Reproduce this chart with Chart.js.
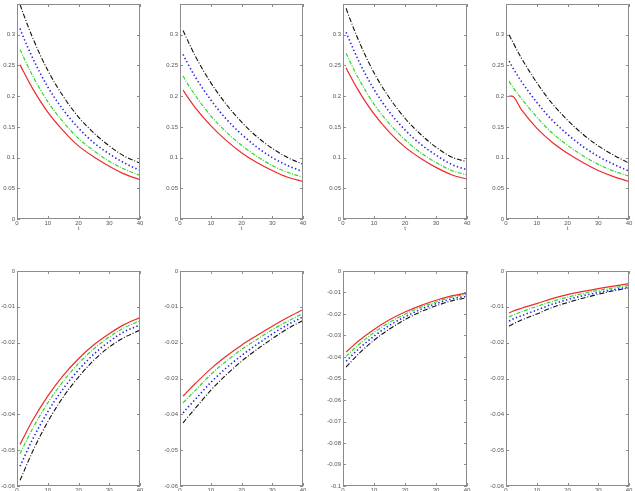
<!DOCTYPE html>
<html><head><meta charset="utf-8">
<script src="https://cdn.jsdelivr.net/npm/chart.js@4"></script>
<style>
html,body{margin:0;padding:0;background:#fff;overflow:hidden;width:635px;height:491px;position:relative}
canvas{position:absolute}
</style></head><body>
<script>
// shared t grid
const xs = [1, 2, 5, 10, 15, 20, 25, 30, 35, 40];
const xTicks = [0, 10, 20, 30, 40];

// top row, panel 1..4
const p1Red   = [0.251,0.241,0.213,0.174,0.144,0.119,0.101,0.086,0.073,0.064];
const p1Green = [0.276,0.265,0.234,0.191,0.158,0.131,0.111,0.094,0.081,0.071];
const p1Blue  = [0.310,0.297,0.263,0.215,0.178,0.148,0.124,0.106,0.091,0.079];
const p1Black = [0.349,0.335,0.296,0.242,0.200,0.166,0.140,0.119,0.102,0.091];

const p2Red   = [0.210,0.202,0.181,0.152,0.128,0.108,0.092,0.079,0.068,0.061];
const p2Green = [0.233,0.224,0.201,0.168,0.142,0.120,0.102,0.087,0.076,0.068];
const p2Blue  = [0.268,0.258,0.231,0.194,0.163,0.138,0.117,0.100,0.087,0.077];
const p2Black = [0.307,0.296,0.265,0.222,0.187,0.158,0.134,0.115,0.100,0.089];

const p3Red   = [0.246,0.236,0.209,0.171,0.141,0.117,0.099,0.084,0.072,0.065];
const p3Green = [0.270,0.259,0.229,0.187,0.155,0.129,0.108,0.092,0.079,0.072];
const p3Blue  = [0.304,0.292,0.258,0.211,0.174,0.145,0.122,0.104,0.089,0.080];
const p3Black = [0.343,0.329,0.291,0.238,0.197,0.164,0.138,0.117,0.101,0.093];

const p4Red   = [0.200,0.200,0.178,0.148,0.125,0.107,0.092,0.079,0.069,0.061];
const p4Green = [0.224,0.216,0.196,0.166,0.140,0.120,0.103,0.089,0.078,0.070];
const p4Blue  = [0.257,0.248,0.224,0.190,0.161,0.138,0.118,0.102,0.089,0.078];
const p4Black = [0.300,0.290,0.262,0.222,0.188,0.161,0.138,0.119,0.104,0.091];

// bottom row, panel 5..8
const p5Red   = [-0.0484,-0.0467,-0.0418,-0.0349,-0.0292,-0.0245,-0.0206,-0.0175,-0.0149,-0.0130];
const p5Green = [-0.0510,-0.0492,-0.0441,-0.0368,-0.0308,-0.0258,-0.0217,-0.0184,-0.0158,-0.0139];
const p5Blue  = [-0.0545,-0.0526,-0.0471,-0.0393,-0.0329,-0.0276,-0.0232,-0.0197,-0.0169,-0.0151];
const p5Black = [-0.0584,-0.0564,-0.0505,-0.0421,-0.0352,-0.0296,-0.0249,-0.0212,-0.0185,-0.0165];

const p6Red   = [-0.0349,-0.0340,-0.0314,-0.0273,-0.0238,-0.0207,-0.0180,-0.0154,-0.0130,-0.0108];
const p6Green = [-0.0368,-0.0359,-0.0333,-0.0289,-0.0252,-0.0219,-0.0191,-0.0164,-0.0140,-0.0119];
const p6Blue  = [-0.0396,-0.0386,-0.0358,-0.0311,-0.0271,-0.0236,-0.0205,-0.0176,-0.0150,-0.0128];
const p6Black = [-0.0424,-0.0413,-0.0383,-0.0333,-0.0290,-0.0252,-0.0219,-0.0189,-0.0161,-0.0138];

const p7Red   = [-0.0377,-0.0364,-0.0326,-0.0272,-0.0227,-0.0191,-0.0161,-0.0136,-0.0116,-0.0102];
const p7Green = [-0.0397,-0.0383,-0.0343,-0.0286,-0.0239,-0.0201,-0.0169,-0.0144,-0.0122,-0.0108];
const p7Blue  = [-0.0420,-0.0405,-0.0363,-0.0303,-0.0253,-0.0213,-0.0179,-0.0152,-0.0130,-0.0117];
const p7Black = [-0.0447,-0.0431,-0.0386,-0.0322,-0.0270,-0.0226,-0.0190,-0.0162,-0.0139,-0.0124];

const p8Red   = [-0.0117,-0.0113,-0.0104,-0.0091,-0.0077,-0.0066,-0.0057,-0.0049,-0.0042,-0.0035];
const p8Green = [-0.0128,-0.0124,-0.0114,-0.0099,-0.0085,-0.0073,-0.0063,-0.0054,-0.0047,-0.0040];
const p8Blue  = [-0.0140,-0.0135,-0.0125,-0.0109,-0.0093,-0.0080,-0.0069,-0.0060,-0.0052,-0.0045];
const p8Black = [-0.0154,-0.0149,-0.0137,-0.0120,-0.0102,-0.0088,-0.0076,-0.0065,-0.0055,-0.0047];

const xLabel = 't';

// layout (plot box positions in page pixels)
const panels = [
  {left:17,  top:4,   w:123, h:215, ymin:0, ymax:0.35, step:0.05, s:[p1Red,p1Green,p1Blue,p1Black], topRow:true},
  {left:180, top:4,   w:123, h:215, ymin:0, ymax:0.35, step:0.05, s:[p2Red,p2Green,p2Blue,p2Black], topRow:true},
  {left:343, top:4,   w:124, h:215, ymin:0, ymax:0.35, step:0.05, s:[p3Red,p3Green,p3Blue,p3Black], topRow:true},
  {left:506, top:4,   w:123, h:215, ymin:0, ymax:0.35, step:0.05, s:[p4Red,p4Green,p4Blue,p4Black], topRow:true},
  {left:17,  top:271, w:123, h:215, ymin:-0.06, ymax:0, step:0.01, s:[p5Red,p5Green,p5Blue,p5Black], topRow:false},
  {left:180, top:271, w:123, h:215, ymin:-0.06, ymax:0, step:0.01, s:[p6Red,p6Green,p6Blue,p6Black], topRow:false},
  {left:343, top:271, w:124, h:215, ymin:-0.1,  ymax:0, step:0.01, s:[p7Red,p7Green,p7Blue,p7Black], topRow:false},
  {left:506, top:271, w:123, h:215, ymin:-0.06, ymax:0, step:0.01, s:[p8Red,p8Green,p8Blue,p8Black], topRow:false}
];

const styles = [
  {color:'#ee2a2a', width:1.2, dash:[]},
  {color:'#2fd62f', width:1.2, dash:[4,1.5,1,1.5]},
  {color:'#2424e8', width:1.6, dash:[1.4,2.4]},
  {color:'#111111', width:1.1, dash:[5,1.8,1,1.8]}
];

const boxPlugin = {
  id:'box',
  afterDatasetsDraw(chart){
    const {ctx, chartArea:a, scales:{x,y}} = chart;
    ctx.save();
    ctx.strokeStyle = '#8c8c8c';
    ctx.lineWidth = 1;
    ctx.strokeRect(Math.round(a.left)+0.5, Math.round(a.top)+0.5, Math.round(a.right-a.left)-1, Math.round(a.bottom-a.top)-1);
    ctx.beginPath();
    x.ticks.forEach(t => {
      const px = Math.round(x.getPixelForValue(t.value))+0.5;
      ctx.moveTo(px, a.bottom); ctx.lineTo(px, a.bottom-3);
      ctx.moveTo(px, a.top); ctx.lineTo(px, a.top+3);
    });
    y.ticks.forEach(t => {
      const py = Math.round(y.getPixelForValue(t.value))+0.5;
      ctx.moveTo(a.left, py); ctx.lineTo(a.left+3, py);
      ctx.moveTo(a.right, py); ctx.lineTo(a.right-3, py);
    });
    ctx.stroke();
    ctx.restore();
  }
};

const FONT = {family:'"Liberation Sans", Arial, sans-serif', size:6};
const YW = 17, PR = 8;

panels.forEach(p => {
  const padTop = p.topRow ? 4 : 8;
  const xH = p.topRow ? 13 : 10;
  const cv = document.createElement('canvas');
  const W = YW + p.w + PR, H = padTop + p.h + xH;
  cv.width = W; cv.height = H;
  cv.style.left = (p.left - YW) + 'px';
  cv.style.top = (p.top - padTop) + 'px';
  cv.style.width = W + 'px'; cv.style.height = H + 'px';
  document.body.appendChild(cv);
  new Chart(cv, {
    type:'line',
    data:{
      datasets: p.s.map((arr, i) => ({
        data: xs.map((xv, k) => ({x: xv, y: arr[k]})),
        borderColor: styles[i].color,
        borderWidth: styles[i].width,
        borderDash: styles[i].dash,
        pointRadius: 0,
        fill: false,
        cubicInterpolationMode: 'monotone'
      }))
    },
    options:{
      responsive:false, animation:false, devicePixelRatio:1,
      layout:{padding:{top:padTop, right:PR, left:0, bottom:0}},
      plugins:{legend:{display:false}, tooltip:{enabled:false}},
      scales:{
        x:{
          type:'linear', min:0, max:40,
          afterBuildTicks(s){ s.ticks = xTicks.map(v => ({value:v})); },
          ticks:{font:FONT, color:'#555', padding:1, maxRotation:0, autoSkip:false},
          grid:{display:false, drawTicks:false}, border:{display:false},
          title:{display:p.topRow, text:xLabel, font:FONT, color:'#555', padding:0},
          afterFit(s){ s.height = xH; s.paddingLeft = 0; s.paddingRight = 0; }
        },
        y:{
          type:'linear', min:p.ymin, max:p.ymax,
          ticks:{stepSize:p.step, font:FONT, color:'#555', padding:2, autoSkip:false,
            callback:(v) => (p.topRow && v > 0.32) ? '' : String(Math.round(v*1000)/1000)},
          grid:{display:false, drawTicks:false}, border:{display:false},
          afterFit(s){ s.width = YW; s.paddingTop = 0; s.paddingBottom = 0; }
        }
      }
    },
    plugins:[boxPlugin]
  });
});
</script>
</body></html>
